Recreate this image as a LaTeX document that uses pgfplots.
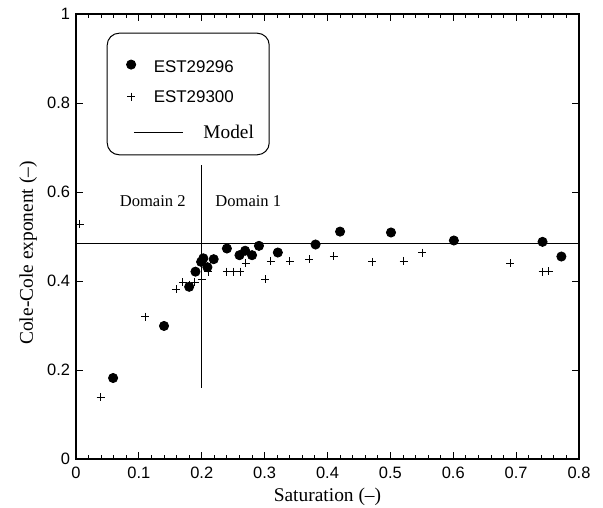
\documentclass[border=0pt]{standalone}
\usepackage{fontspec}
\setmainfont{Liberation Serif}
\setsansfont{Liberation Sans}
\usepackage{pgfplots}
\pgfplotsset{compat=1.18}
\pgfplotsset{
  limgA/.style={legend image code/.code={\draw[##1] plot coordinates {(8bp,3bp)}; \path (0bp,-7bp) (20bp,19.4bp);}},
  limgB/.style={legend image code/.code={\draw[##1] plot coordinates {(8bp,0.7bp)}; \path (0bp,-7bp) (20bp,7bp);}},
  limgC/.style={legend image code/.code={\draw[##1,line width=1.6bp,overlay] (10.7bp,0bp) -- (59.7bp,0bp); \path (0bp,-7bp) (20bp,12bp);}},
}

\begin{document}
\begin{tikzpicture}
\useasboundingbox (-76bp,-49bp) rectangle (527bp,459bp);
\begin{axis}[
  scale only axis, width=503bp, height=445bp,
  xmin=0, xmax=0.8, ymin=0, ymax=1,
  xtick={0,0.1,0.2,0.3,0.4,0.5,0.6,0.7,0.8},
  ytick={0,0.2,0.4,0.6,0.8,1},
  minor x tick num=4,
  major tick length=7bp, minor tick length=4bp,
  tick style={line width=0.9bp, black},
  axis line style={line width=1.2bp},
  ticklabel style={font=\sffamily\fontsize{16.5}{19}\selectfont},
  xticklabel style={yshift=-4.5bp},
  yticklabel style={xshift=-2.5bp},
  /pgf/number format/assume math mode=true,
  xlabel={Saturation (–)},
  ylabel={Cole-Cole exponent (–)},
  label style={font=\fontsize{19.5}{22}\selectfont},
  xlabel style={at={(axis description cs:0.5,-0.096)}, anchor=base},
  ylabel style={at={(axis description cs:-0.0855,0.463)}, anchor=base},
  legend cell align=left,
  legend style={at={(axis description cs:0.061,0.958)}, anchor=north west,
    draw=black, line width=1bp, rounded corners=12bp,
    inner xsep=15.3bp, inner ysep=14.6bp, row sep=15bp, column sep=10bp,
    nodes={inner sep=0pt}, font=\sffamily\fontsize{17}{20}\selectfont},
]
\addplot[only marks, mark=*, mark size=4.6bp, black, line width=0.8bp, limgA]
  coordinates {
  (0.059,0.182) (0.140,0.299) (0.180,0.387) (0.190,0.421) (0.199,0.443)
  (0.2025,0.451) (0.209,0.431) (0.219,0.449) (0.240,0.473) (0.260,0.458)
  (0.269,0.468) (0.280,0.458) (0.291,0.479) (0.321,0.464) (0.381,0.482)
  (0.420,0.511) (0.501,0.509) (0.601,0.491) (0.742,0.488) (0.772,0.455)
  };
\addlegendentry{EST29296}
\addplot[only marks, mark=+, mark size=4bp, black, line width=0.9bp, limgB]
  coordinates {
  (0.006,0.528) (0.039,0.139) (0.110,0.320) (0.159,0.381) (0.170,0.397)
  (0.180,0.392) (0.189,0.397) (0.200,0.404) (0.210,0.421) (0.240,0.421)
  (0.250,0.421) (0.261,0.421) (0.270,0.440) (0.301,0.404) (0.310,0.445)
  (0.340,0.445) (0.371,0.449) (0.410,0.456) (0.471,0.443) (0.521,0.445)
  (0.551,0.464) (0.691,0.440) (0.742,0.421) (0.752,0.422)
  };
\addlegendentry{EST29300}
\addplot[black, line width=1.3bp, limgC]
  coordinates {(0,0.484) (0.8,0.484)};
\addlegendentry{\hspace*{49.7bp}\rmfamily\fontsize{19.4}{22}\selectfont Model}
\addplot[black, line width=1bp, forget plot] coordinates {(0.2,0.16) (0.2,0.661)};
\node[font=\fontsize{16.6}{19}\selectfont] at (axis cs:0.122,0.58) {Domain 2};
\node[font=\fontsize{16.6}{19}\selectfont] at (axis cs:0.274,0.58) {Domain 1};
\end{axis}
\end{tikzpicture}
\end{document}
